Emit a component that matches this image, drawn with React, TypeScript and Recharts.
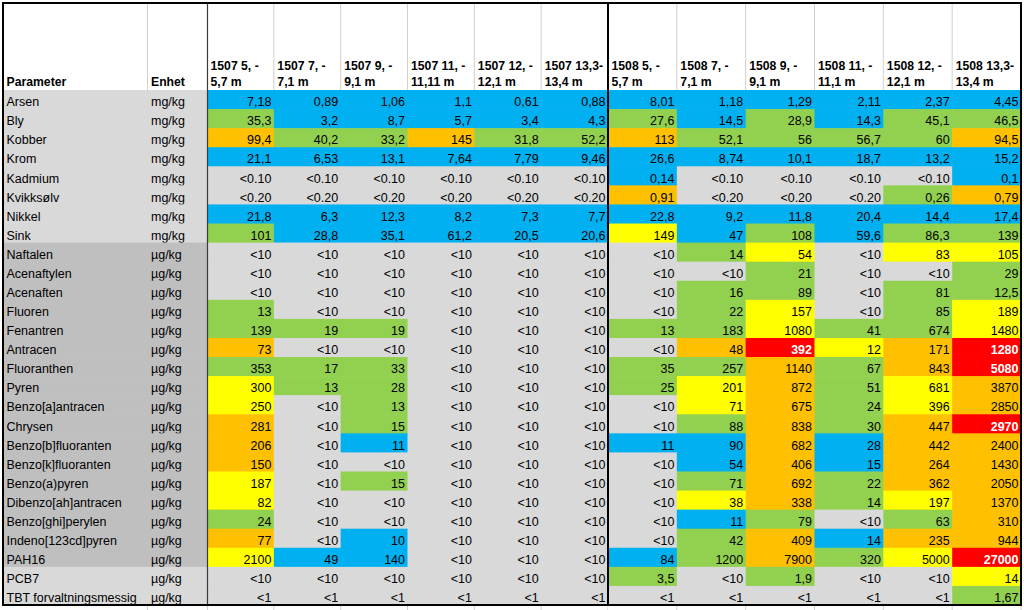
import React from "react";
import { ScatterChart, Scatter, XAxis, YAxis } from "recharts";

// ---------- data ----------
const parameters = [
  "Arsen", "Bly", "Kobber", "Krom", "Kadmium", "Kvikksølv", "Nikkel", "Sink",
  "Naftalen", "Acenaftylen", "Acenaften", "Fluoren", "Fenantren", "Antracen",
  "Fluoranthen", "Pyren", "Benzo[a]antracen", "Chrysen", "Benzo[b]fluoranten",
  "Benzo[k]fluoranten", "Benzo(a)pyren", "Dibenzo[ah]antracen", "Benzo[ghi]perylen",
  "Indeno[123cd]pyren", "PAH16", "PCB7", "TBT forvaltningsmessig",
];
const units = [
  "mg/kg", "mg/kg", "mg/kg", "mg/kg", "mg/kg", "mg/kg", "mg/kg", "mg/kg",
  "µg/kg", "µg/kg", "µg/kg", "µg/kg", "µg/kg", "µg/kg", "µg/kg", "µg/kg", "µg/kg",
  "µg/kg", "µg/kg", "µg/kg", "µg/kg", "µg/kg", "µg/kg", "µg/kg", "µg/kg",
  "µg/kg", "µg/kg",
];
// parameter group: M = metal, P = PAH, O = other
const paramGroups = "MMMMMMMMPPPPPPPPPPPPPPPPPOO";

const sampleIds = ["c1", "c2", "c3", "c4", "c5", "c6", "c7", "c8", "c9", "c10", "c11", "c12"];
const headerLine1 = [
  "1507 5, -", "1507 7, -", "1507 9, -", "1507 11, -", "1507 12, -", "1507 13,3-",
  "1508 5, -", "1508 7, -", "1508 9, -", "1508 11, -", "1508 12, -", "1508 13,3-",
];
const headerLine2 = [
  "5,7 m", "7,1 m", "9,1 m", "11,11 m", "12,1 m", "13,4 m",
  "5,7 m", "7,1 m", "9,1 m", "11,1 m", "12,1 m", "13,4 m",
];

const values: string[][] = [
  ["7,18", "0,89", "1,06", "1,1", "0,61", "0,88", "8,01", "1,18", "1,29", "2,11", "2,37", "4,45"],
  ["35,3", "3,2", "8,7", "5,7", "3,4", "4,3", "27,6", "14,5", "28,9", "14,3", "45,1", "46,5"],
  ["99,4", "40,2", "33,2", "145", "31,8", "52,2", "113", "52,1", "56", "56,7", "60", "94,5"],
  ["21,1", "6,53", "13,1", "7,64", "7,79", "9,46", "26,6", "8,74", "10,1", "18,7", "13,2", "15,2"],
  ["<0.10", "<0.10", "<0.10", "<0.10", "<0.10", "<0.10", "0,14", "<0.10", "<0.10", "<0.10", "<0.10", "0,1"],
  ["<0.20", "<0.20", "<0.20", "<0.20", "<0.20", "<0.20", "0,91", "<0.20", "<0.20", "<0.20", "0,26", "0,79"],
  ["21,8", "6,3", "12,3", "8,2", "7,3", "7,7", "22,8", "9,2", "11,8", "20,4", "14,4", "17,4"],
  ["101", "28,8", "35,1", "61,2", "20,5", "20,6", "149", "47", "108", "59,6", "86,3", "139"],
  ["<10", "<10", "<10", "<10", "<10", "<10", "<10", "14", "54", "<10", "83", "105"],
  ["<10", "<10", "<10", "<10", "<10", "<10", "<10", "<10", "21", "<10", "<10", "29"],
  ["<10", "<10", "<10", "<10", "<10", "<10", "<10", "16", "89", "<10", "81", "12,5"],
  ["13", "<10", "<10", "<10", "<10", "<10", "<10", "22", "157", "<10", "85", "189"],
  ["139", "19", "19", "<10", "<10", "<10", "13", "183", "1080", "41", "674", "1480"],
  ["73", "<10", "<10", "<10", "<10", "<10", "<10", "48", "392", "12", "171", "1280"],
  ["353", "17", "33", "<10", "<10", "<10", "35", "257", "1140", "67", "843", "5080"],
  ["300", "13", "28", "<10", "<10", "<10", "25", "201", "872", "51", "681", "3870"],
  ["250", "<10", "13", "<10", "<10", "<10", "<10", "71", "675", "24", "396", "2850"],
  ["281", "<10", "15", "<10", "<10", "<10", "<10", "88", "838", "30", "447", "2970"],
  ["206", "<10", "11", "<10", "<10", "<10", "11", "90", "682", "28", "442", "2400"],
  ["150", "<10", "<10", "<10", "<10", "<10", "<10", "54", "406", "15", "264", "1430"],
  ["187", "<10", "15", "<10", "<10", "<10", "<10", "71", "692", "22", "362", "2050"],
  ["82", "<10", "<10", "<10", "<10", "<10", "<10", "38", "338", "14", "197", "1370"],
  ["24", "<10", "<10", "<10", "<10", "<10", "<10", "11", "79", "<10", "63", "310"],
  ["77", "<10", "10", "<10", "<10", "<10", "<10", "42", "409", "14", "235", "944"],
  ["2100", "49", "140", "<10", "<10", "<10", "84", "1200", "7900", "320", "5000", "27000"],
  ["<10", "<10", "<10", "<10", "<10", "<10", "3,5", "<10", "1,9", "<10", "<10", "14"],
  ["<1", "<1", "<1", "<1", "<1", "<1", "<1", "<1", "<1", "<1", "<1", "1,67"],
];

// condition class per cell: B blue, G green, Y yellow, O orange, R red, N not classified
const classes: string[] = [
  "BBBBBBBBBBBB",
  "GBBBBBGBGBGG",
  "OGGOGGOGGGGO",
  "BBBBBBBBBBBB",
  "NNNNNNBNNNNB",
  "NNNNNNONNNGO",
  "BBBBBBBBBBBB",
  "GBBBBBYBGBGG",
  "NNNNNNNGYNYY",
  "NNNNNNNNGNNG",
  "NNNNNNNGGNGG",
  "GNNNNNNGYNGY",
  "GGGNNNGGYGGY",
  "ONNNNNNORYOR",
  "GGGNNNGGOGOR",
  "YGGNNNGYOGYO",
  "YNGNNNNYOGYO",
  "ONGNNNNGOGOR",
  "ONBNNNBBOBOO",
  "ONNNNNNBOBOO",
  "YNGNNNNGOGOO",
  "YNNNNNNYOGYO",
  "GNNNNNNBGNGO",
  "ONBNNNNGOBOO",
  "YBBNNNBGOGYR",
  "NNNNNNGNGNNY",
  "NNNNNNNNNNNG",
];

// ---------- styles ----------
const classColors: Record<string, string> = {
  B: "#00b0f0",
  G: "#92d050",
  Y: "#ffff00",
  O: "#ffc000",
  R: "#ff0000",
  N: "#d9d9d9",
};
const groupColors: Record<string, string> = { M: "#d9d9d9", P: "#bfbfbf", O: "#d9d9d9" };
const FONT = "'Liberation Sans', Arial, sans-serif";
const SX = 0.94;

const TOP = 3;
const HEADER_H = 87;
const BOTTOM_M = 5;
const CHART_H = 610;
const ROW_H = (CHART_H - TOP - HEADER_H - BOTTOM_M) / parameters.length;
const LABEL_W = 204;
const LEFT_CHART_W = 608;
const RIGHT_CHART_W = 416;
const LEFT_CELL_W = (LEFT_CHART_W - 3 - LABEL_W) / 6;
const RIGHT_CELL_W = (RIGHT_CHART_W - 3) / 6;

type Pt = { row: string; col: string; value: string; cls: string };

const buildHalf = (start: number): Pt[] => {
  const out: Pt[] = [];
  parameters.forEach((p, r) => {
    for (let c = start; c < start + 6; c++) {
      out.push({ row: p, col: sampleIds[c], value: values[r][c], cls: classes[r][c] });
    }
  });
  return out;
};
const leftData = buildHalf(0);
const rightData = buildHalf(6);

const CText = (p: { x: number; y: number; anchor?: string; bold?: boolean; size?: number; fill?: string; children: any }) => (
  <text
    transform={`translate(${p.x},${p.y}) scale(${SX},1)`}
    textAnchor={p.anchor || "start"}
    fontFamily={FONT}
    fontSize={p.size || 13.3}
    fontWeight={p.bold ? "bold" : "normal"}
    fill={p.fill || "#000"}
  >
    {p.children}
  </text>
);

const makeCell = (w: number) => (props: any) => {
  const { cx, cy, payload } = props;
  if (cx == null || cy == null) return <g />;
  const h = ROW_H;
  const red = payload.cls === "R";
  return (
    <g>
      <rect x={cx - w / 2} y={cy - h / 2} width={w + 0.6} height={h + 0.6} fill={classColors[payload.cls]} />
      <CText x={cx + w / 2 - 2.5} y={cy + h / 2 - 2.8} anchor="end" bold={red} fill={red ? "#ffffff" : "#000000"}>
        {payload.value}
      </CText>
    </g>
  );
};

const makeHeaderTick = (w: number) => (props: any) => {
  const { x, payload } = props;
  const i = sampleIds.indexOf(payload.value);
  const left = x - w / 2;
  return (
    <g>
      <line x1={left + w} y1={TOP + 1} x2={left + w} y2={TOP + HEADER_H} stroke="#d0d0d0" strokeWidth={1} />
      <line x1={left + w} y1={CHART_H - BOTTOM_M + 1} x2={left + w} y2={CHART_H} stroke="#d0d0d0" strokeWidth={1} />
      <CText x={left + 3.5} y={69.5} bold size={13}>{headerLine1[i]}</CText>
      <CText x={left + 3.5} y={86} bold size={13}>{headerLine2[i]}</CText>
    </g>
  );
};

const RowTick = (props: any) => {
  const { y, index } = props;
  const h = ROW_H;
  return (
    <g>
      <rect x={3} y={y - h / 2} width={LABEL_W} height={h + 0.6} fill={groupColors[paramGroups[index]]} />
      <CText x={6.5} y={y + h / 2 - 2.8}>{parameters[index]}</CText>
      <CText x={151} y={y + h / 2 - 2.8}>{units[index]}</CText>
    </g>
  );
};

export default function App() {
  return (
    <div style={{ position: "absolute", left: 0, top: 0, width: 1024, height: 610, background: "#fff", overflow: "hidden" }}>
      <div style={{ position: "absolute", left: 0, top: 0 }}>
        <ScatterChart width={LEFT_CHART_W} height={CHART_H} margin={{ top: TOP, right: 0, bottom: BOTTOM_M, left: 3 }}>
          <XAxis
            type="category"
            dataKey="col"
            orientation="top"
            height={HEADER_H}
            allowDuplicatedCategory={false}
            axisLine={false}
            tickLine={false}
            interval={0}
            tick={makeHeaderTick(LEFT_CELL_W)}
          />
          <YAxis
            type="category"
            dataKey="row"
            width={LABEL_W}
            reversed
            allowDuplicatedCategory={false}
            axisLine={false}
            tickLine={false}
            interval={0}
            tick={<RowTick />}
          />
          <Scatter data={leftData} shape={makeCell(LEFT_CELL_W)} isAnimationActive={false} />
        </ScatterChart>
      </div>
      <div style={{ position: "absolute", left: LEFT_CHART_W, top: 0 }}>
        <ScatterChart width={RIGHT_CHART_W} height={CHART_H} margin={{ top: TOP, right: 3, bottom: BOTTOM_M, left: 0 }}>
          <XAxis
            type="category"
            dataKey="col"
            orientation="top"
            height={HEADER_H}
            allowDuplicatedCategory={false}
            axisLine={false}
            tickLine={false}
            interval={0}
            tick={makeHeaderTick(RIGHT_CELL_W)}
          />
          <YAxis type="category" dataKey="row" width={0} hide reversed allowDuplicatedCategory={false} />
          <Scatter data={rightData} shape={makeCell(RIGHT_CELL_W)} isAnimationActive={false} />
        </ScatterChart>
      </div>
      <svg width={1024} height={610} style={{ position: "absolute", left: 0, top: 0, pointerEvents: "none" }}>
        <line x1={147.5} y1={4} x2={147.5} y2={90} stroke="#d0d0d0" strokeWidth={1} />
        <line x1={147.5} y1={606} x2={147.5} y2={610} stroke="#d0d0d0" strokeWidth={1} />
        <line x1={207.5} y1={606} x2={207.5} y2={610} stroke="#d0d0d0" strokeWidth={1} />
        <CText x={6.5} y={86} bold size={13}>Parameter</CText>
        <CText x={151} y={86} bold size={13}>Enhet</CText>
        <line x1={207.5} y1={3} x2={207.5} y2={605} stroke="#3a3a3a" strokeWidth={1.2} />
        <line x1={608} y1={3} x2={608} y2={605} stroke="#000" strokeWidth={2} />
        <rect x={3} y={3} width={1018} height={602} fill="none" stroke="#000" strokeWidth={2} />
      </svg>
    </div>
  );
}
